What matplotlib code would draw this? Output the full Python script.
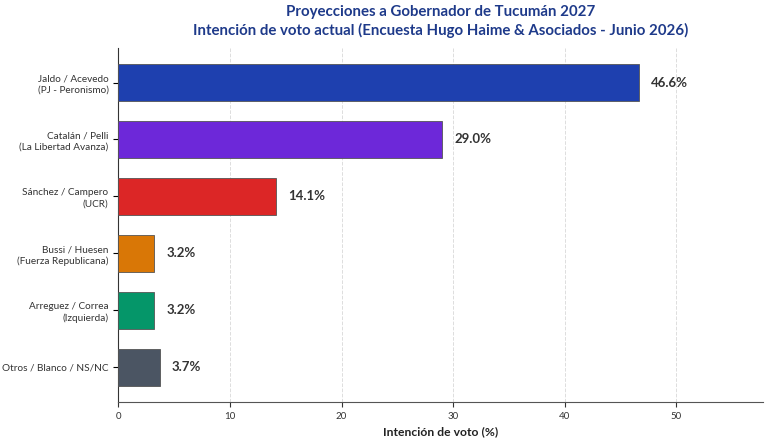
import matplotlib
matplotlib.use('Agg')
from matplotlib import pyplot as plt

candidatos = [
    "Jaldo / Acevedo\n(PJ - Peronismo)",
    "Catalán / Pelli\n(La Libertad Avanza)",
    "Sánchez / Campero\n(UCR)",
    "Bussi / Huesen\n(Fuerza Republicana)",
    "Arreguez / Correa\n(Izquierda)",
    "Otros / Blanco / NS/NC",
]
votos = [46.6, 29.0, 14.1, 3.2, 3.2, 3.7]
colores = ["#1e40af", "#6d28d9", "#dc2626", "#d97706", "#059669", "#4b5563"]
x_ticks = [0, 10, 20, 30, 40, 50]

plt.rcParams['font.family'] = ['Lato', 'DejaVu Sans']

fig, ax = plt.subplots(figsize=(7.68, 4.44), dpi=100)

pos = list(range(len(candidatos)))
ax.barh(pos, votos, height=0.65, color=colores, edgecolor='#555555', linewidth=0.6, zorder=3)
ax.set_yticks(pos)
ax.set_yticklabels(candidatos, fontsize=7.2, color='#333333', linespacing=1.3)
ax.invert_yaxis()

for p, v in zip(pos, votos):
    ax.text(v + 1.1, p, f"{v:.1f}%", va='center', ha='left', fontsize=9.5,
            fontweight='bold', color='#333333')

ax.set_xlim(0, max(votos) * 1.24)
ax.set_xticks(x_ticks)
ax.tick_params(axis='x', labelsize=7, colors='#333333')
ax.set_xlabel("Intención de voto (%)", fontsize=8.7, fontweight='bold', color='#222222')
ax.grid(axis='x', linestyle='--', color='#dddddd', linewidth=0.7, zorder=0)

for s in ['top', 'right']:
    ax.spines[s].set_visible(False)
ax.spines['left'].set_color('#333333')
ax.spines['bottom'].set_color('#555555')

ax.set_title("Proyecciones a Gobernador de Tucumán 2027\n"
             "Intención de voto actual (Encuesta Hugo Haime & Asociados - Junio 2026)",
             fontsize=10.8, fontweight='bold', color='#1e3a8a', pad=9, linespacing=1.35)

fig.subplots_adjust(left=0.154, right=0.994, top=0.892, bottom=0.095)
plt.savefig("out.png", dpi=100)
plt.close()
